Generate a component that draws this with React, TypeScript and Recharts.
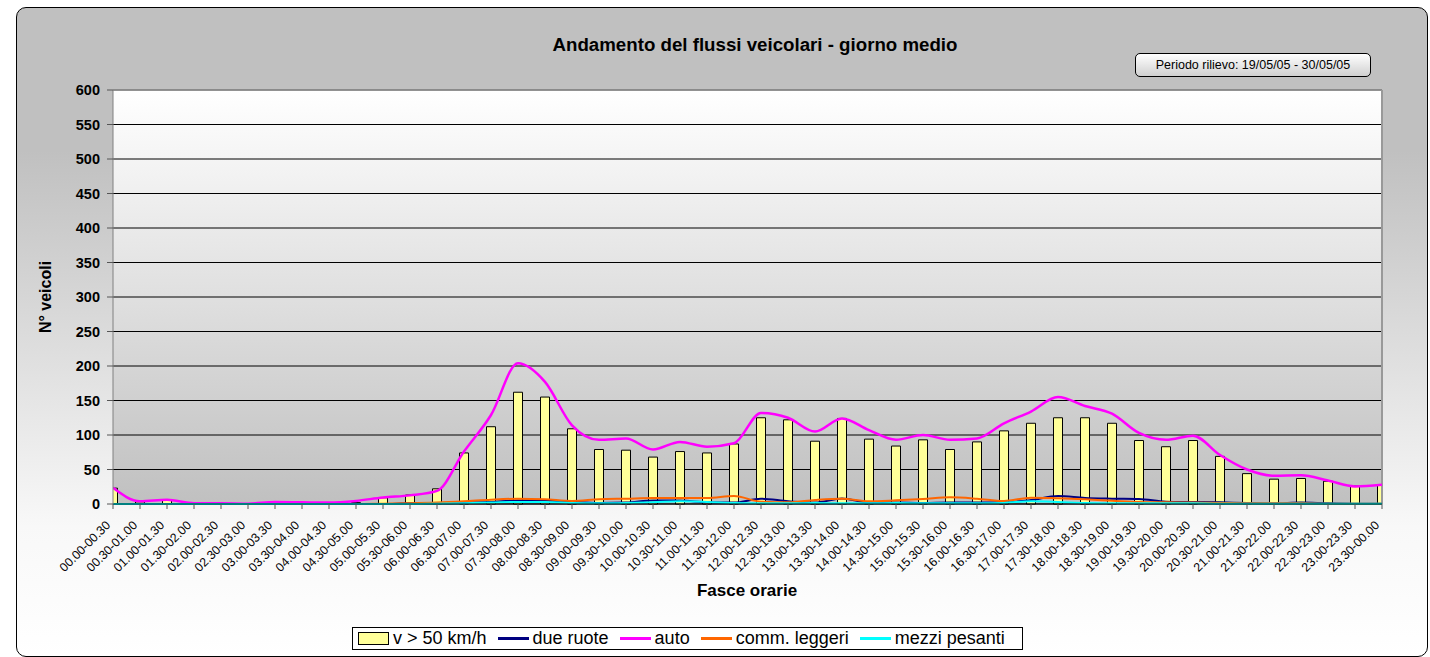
import { ComposedChart, Bar, Line, XAxis, YAxis, CartesianGrid, ReferenceLine } from 'recharts';

const FONT = 'Arial, "Liberation Sans", sans-serif';

const categories = [
  '00.00-00.30', '00.30-01.00', '01.00-01.30', '01.30-02.00', '02.00-02.30', '02.30-03.00',
  '03.00-03.30', '03.30-04.00', '04.00-04.30', '04.30-05.00', '05.00-05.30', '05.30-06.00',
  '06.00-06.30', '06.30-07.00', '07.00-07.30', '07.30-08.00', '08.00-08.30', '08.30-09.00',
  '09.00-09.30', '09.30-10.00', '10.00-10.30', '10.30-11.00', '11.00-11.30', '11.30-12.00',
  '12.00-12.30', '12.30-13.00', '13.00-13.30', '13.30-14.00', '14.00-14.30', '14.30-15.00',
  '15.00-15.30', '15.30-16.00', '16.00-16.30', '16.30-17.00', '17.00-17.30', '17.30-18.00',
  '18.00-18.30', '18.30-19.00', '19.00-19.30', '19.30-20.00', '20.00-20.30', '20.30-21.00',
  '21.00-21.30', '21.30-22.00', '22.00-22.30', '22.30-23.00', '23.00-23.30', '23.30-00.00',
];

// v > 50 km/h (barre)
const sopra50 = [
  23, 3, 6, 1, 0, 0, 1, 1, 1, 2, 9, 13,
  22, 74, 112, 162, 155, 109, 79, 78, 68, 76, 74, 87,
  125, 122, 91, 124, 94, 84, 93, 79, 90, 106, 117, 125,
  125, 117, 92, 83, 92, 69, 44, 36, 37, 33, 26, 27,
];

const dueRuote = [
  0, 0, 0, 0, 0, 0, 0, 0, 0, 0, 0, 1,
  1, 2, 3, 5, 5, 3, 1.5, 2, 5, 5, 2.4, 2,
  7.7, 4, 2, 8, 2, 2, 1.5, 2, 2, 2.4, 5.8, 11.6,
  8.7, 7.7, 7.2, 3.4, 2.9, 2.4, 1.5, 1, 2, 1, 0.5, 0.5,
];

const auto = [
  23.5, 4, 6, 1, 1, 0.5, 3, 2.5, 2, 4.5, 9.5, 12.5,
  19, 76, 129, 204, 177, 114, 93, 95, 79, 90, 83, 88,
  132, 125, 105, 124, 107, 93, 100, 93, 95, 117, 134, 155,
  142, 131, 103, 93, 99, 71, 50, 41, 41.5, 34, 25.5, 28,
];

const commLeggeri = [
  0, 0, 0, 0, 0, 0, 0, 0, 0, 0, 0.5, 1,
  2, 3.9, 6.3, 7.7, 6.8, 4.3, 6.8, 7.7, 8.7, 8.7, 8.7, 11.6,
  3.4, 2.4, 5.8, 7.7, 3.9, 5.3, 7.2, 9.7, 7.7, 4.3, 9.2, 8.2,
  6.8, 4.8, 2.9, 2.4, 2, 1.5, 1, 1, 1, 0.5, 0.5, 0.5,
];

const mezziPesanti = [
  0, 0, 0, 0, 0, 0, 0, 0, 0, 0, 0, 0,
  0.5, 1, 2, 3, 3, 1.5, 1, 1.5, 2.5, 3.9, 3, 1.5,
  1, 1, 1.5, 1, 1, 1.5, 1, 1, 1, 1.5, 4, 3,
  1.5, 1, 1, 1, 1, 0.5, 0.5, 0.5, 0.5, 0.5, 0.5, 0.5,
];

const yTicks = [0, 50, 100, 150, 200, 250, 300, 350, 400, 450, 500, 550, 600];

const data = categories.map((label, i) => ({
  i,
  label,
  sopra50: sopra50[i],
  dueRuote: dueRuote[i],
  auto: auto[i],
  commLeggeri: commLeggeri[i],
  mezziPesanti: mezziPesanti[i],
}));

const xTicks = categories.map((_, i) => i);

function HourTick({ x, y, payload }: any) {
  const ax = x - 2;
  const ay = y + 15;
  return (
    <text
      x={ax}
      y={ay}
      transform={`rotate(-45, ${ax}, ${ay})`}
      textAnchor="end"
      fontSize={12.3}
      fontFamily={FONT}
      fill="#000"
    >
      {categories[payload.value]}
    </text>
  );
}

function LineSwatch({ color }: { color: string }) {
  return <span style={{ display: 'inline-block', width: 31, height: 3, background: color, margin: '0 4px 0 11px' }} />;
}

export default function App() {
  return (
    <div style={{ position: 'absolute', left: 0, top: 0, width: 1430, height: 657, overflow: 'hidden', fontFamily: FONT }}>
      <div
        style={{
          position: 'absolute',
          left: 16,
          top: 7,
          width: 1410,
          height: 648,
          border: '1.5px solid #000',
          borderRadius: 10,
          background: 'linear-gradient(to bottom, #c0c0c0 0%, #c0c0c0 22%, #f8f8f8 80%, #ffffff 100%)',
        }}
      />
      <div
        style={{
          position: 'absolute',
          left: 0,
          width: 1510,
          top: 34,
          textAlign: 'center',
          fontWeight: 'bold',
          fontSize: 18.7,
        }}
      >
        Andamento del flussi veicolari - giorno medio
      </div>
      <div
        style={{
          position: 'absolute',
          left: 1135,
          top: 53,
          width: 234,
          height: 22,
          border: '1.5px solid #000',
          borderRadius: 5,
          background: 'linear-gradient(to bottom, #ffffff, #d0d0d0)',
          fontSize: 12.5,
          lineHeight: '22px',
          textAlign: 'center',
        }}
      >
        Periodo rilievo: 19/05/05 - 30/05/05
      </div>
      <div
        style={{
          position: 'absolute',
          left: 46,
          top: 297,
          transform: 'translate(-50%, -50%) rotate(-90deg)',
          fontWeight: 'bold',
          fontSize: 16,
          whiteSpace: 'nowrap',
        }}
      >
        N° veicoli
      </div>
      <div
        style={{
          position: 'absolute',
          left: 0,
          width: 1494,
          top: 581,
          textAlign: 'center',
          fontWeight: 'bold',
          fontSize: 17,
        }}
      >
        Fasce orarie
      </div>
      <div style={{ position: 'absolute', left: 0, top: 0 }}>
        <ComposedChart
          width={1430}
          height={657}
          data={data}
          margin={{ top: 90, right: 48, bottom: 83, left: 53 }}
        >
          <defs>
            <linearGradient id="plotBg" x1="0" y1="0" x2="0" y2="1">
              <stop offset="0%" stopColor="#ffffff" />
              <stop offset="100%" stopColor="#c0c0c0" />
            </linearGradient>
          </defs>
          <CartesianGrid vertical={false} stroke="#000" fill="url(#plotBg)" fillOpacity={1} />
          <XAxis
            type="number"
            dataKey="i"
            domain={[0, 47]}
            ticks={xTicks}
            interval={0}
            allowDataOverflow
            height={70}
            tick={<HourTick />}
            tickSize={5}
            tickMargin={2}
            stroke="#000"
            tickLine={{ stroke: '#555' }}
          />
          <YAxis
            domain={[0, 600]}
            ticks={yTicks}
            interval={0}
            width={60}
            tickSize={6}
            tickMargin={7}
            stroke="#808080"
            tickLine={{ stroke: '#555' }}
            tick={{ fontSize: 14.5, fontWeight: 'bold', fill: '#000', fontFamily: FONT }}
          />
          <ReferenceLine y={600} stroke="#999" strokeWidth={1.5} />
          <ReferenceLine x={47} stroke="#999" strokeWidth={2} />
          <Bar dataKey="sopra50" name="v > 50 km/h" fill="#ffff99" stroke="#000" strokeWidth={1} barSize={9} isAnimationActive={false} />
          <Line type="monotone" dataKey="dueRuote" name="due ruote" stroke="#000080" strokeWidth={2} dot={false} isAnimationActive={false} />
          <Line type="monotone" dataKey="auto" name="auto" stroke="#ff00ff" strokeWidth={2.5} dot={false} isAnimationActive={false} />
          <Line type="monotone" dataKey="commLeggeri" name="comm. leggeri" stroke="#ff6600" strokeWidth={2} dot={false} isAnimationActive={false} />
          <Line type="monotone" dataKey="mezziPesanti" name="mezzi pesanti" stroke="#00ffff" strokeWidth={2} dot={false} isAnimationActive={false} />
        </ComposedChart>
      </div>
      <div
        style={{
          position: 'absolute',
          left: 352,
          top: 627,
          width: 669,
          height: 21,
          border: '1px solid #000',
          background: '#fff',
          display: 'flex',
          alignItems: 'center',
          fontSize: 18,
          whiteSpace: 'nowrap',
        }}
      >
        <span style={{ display: 'inline-block', width: 29, height: 11, background: '#ffff99', border: '1px solid #000', margin: '0 4px 0 5px' }} />
        <span>v &gt; 50 km/h</span>
        <LineSwatch color="#000080" />
        <span>due ruote</span>
        <LineSwatch color="#ff00ff" />
        <span>auto</span>
        <LineSwatch color="#ff6600" />
        <span>comm. leggeri</span>
        <LineSwatch color="#00ffff" />
        <span>mezzi pesanti</span>
      </div>
    </div>
  );
}
